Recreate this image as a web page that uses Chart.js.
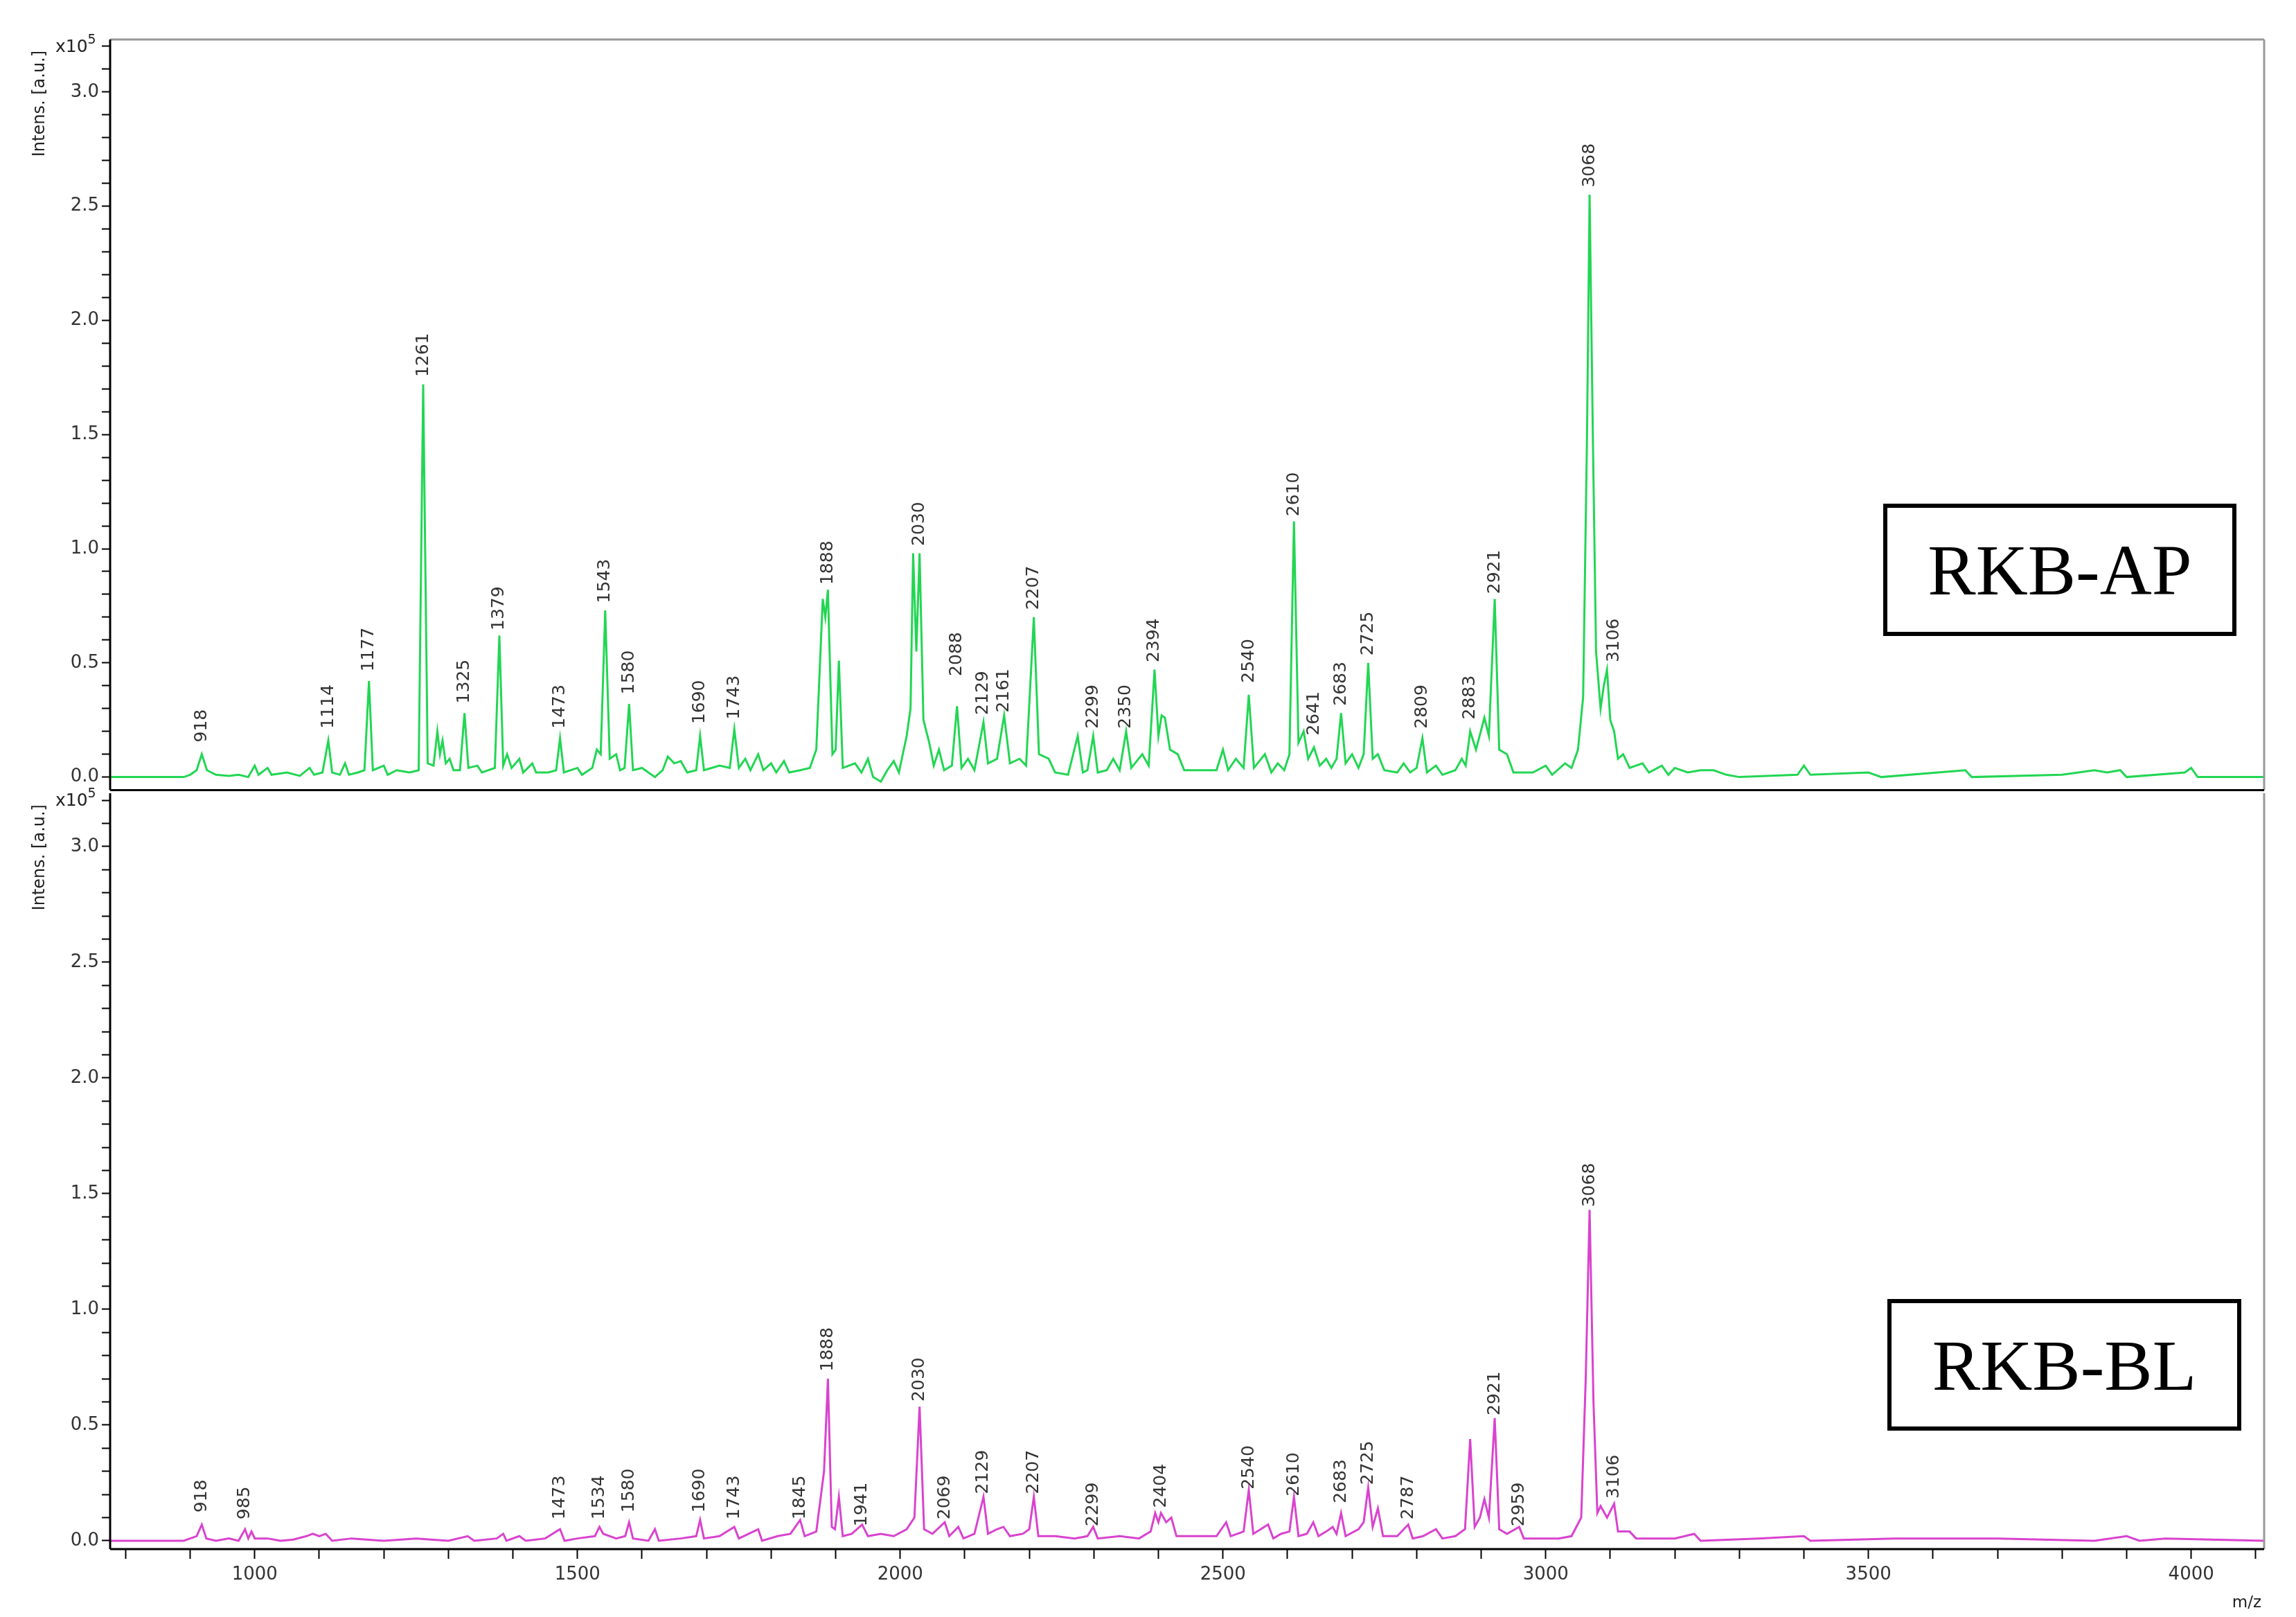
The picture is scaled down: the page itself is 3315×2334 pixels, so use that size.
<!DOCTYPE html>
<html><head><meta charset="utf-8">
<script src="https://cdn.jsdelivr.net/npm/chart.js@4/dist/chart.umd.min.js"></script>
<style>
body{margin:0;background:#fff;width:3315px;height:2334px;position:relative;overflow:hidden}
canvas{position:absolute;left:0}
.box{position:absolute;border:6px solid #000;box-sizing:border-box;font-family:"Liberation Serif",serif;font-size:104px;display:flex;align-items:center;justify-content:center;background:#fff}
</style></head><body>
<canvas id="c1" style="top:0"></canvas>
<canvas id="c2" style="top:1100px"></canvas>
<div class="box" style="left:2719px;top:727px;width:510px;height:191px">RKB-AP</div>
<div class="box" style="left:2725px;top:1875px;width:511px;height:190px">RKB-BL</div>
<script>
const apSpectrum=[[776,0],[890,0],[900,0.01],[910,0.03],[918,0.10],[926,0.03],[940,0.01],[960,0.005],[975,0.01],[990,0.0],[1000,0.05],[1006,0.01],[1020,0.04],[1026,0.01],[1050,0.02],[1070,0.005],[1085,0.04],[1092,0.01],[1105,0.02],[1114,0.16],[1120,0.02],[1132,0.01],[1140,0.06],[1146,0.01],[1160,0.02],[1170,0.03],[1177,0.42],[1183,0.03],[1200,0.05],[1206,0.01],[1220,0.03],[1240,0.02],[1254,0.03],[1261,1.72],[1268,0.06],[1277,0.05],[1283,0.20],[1287,0.10],[1291,0.16],[1296,0.06],[1302,0.08],[1308,0.03],[1318,0.03],[1325,0.28],[1331,0.04],[1345,0.05],[1352,0.02],[1372,0.04],[1379,0.62],[1385,0.05],[1391,0.10],[1398,0.04],[1410,0.08],[1416,0.02],[1430,0.06],[1436,0.02],[1455,0.02],[1467,0.03],[1473,0.17],[1479,0.02],[1500,0.04],[1507,0.01],[1523,0.04],[1530,0.12],[1536,0.10],[1543,0.73],[1550,0.08],[1560,0.10],[1566,0.03],[1573,0.04],[1580,0.32],[1586,0.03],[1600,0.04],[1620,0.0],[1632,0.03],[1640,0.09],[1650,0.06],[1660,0.07],[1670,0.02],[1684,0.03],[1690,0.18],[1696,0.03],[1720,0.05],[1736,0.04],[1743,0.21],[1750,0.04],[1760,0.08],[1768,0.03],[1780,0.10],[1788,0.03],[1800,0.06],[1808,0.02],[1820,0.07],[1828,0.02],[1845,0.03],[1860,0.04],[1870,0.12],[1880,0.78],[1884,0.70],[1888,0.82],[1895,0.10],[1900,0.12],[1905,0.51],[1911,0.04],[1930,0.06],[1940,0.02],[1950,0.08],[1958,0.0],[1970,-0.02],[1980,0.03],[1990,0.07],[1998,0.02],[2010,0.18],[2016,0.30],[2020,0.98],[2025,0.55],[2030,0.98],[2036,0.25],[2045,0.15],[2052,0.05],[2060,0.12],[2068,0.03],[2080,0.05],[2088,0.31],[2095,0.04],[2105,0.08],[2115,0.03],[2129,0.24],[2136,0.06],[2150,0.08],[2161,0.27],[2170,0.06],[2185,0.08],[2195,0.05],[2207,0.70],[2215,0.10],[2230,0.08],[2240,0.02],[2260,0.01],[2275,0.18],[2283,0.02],[2290,0.03],[2299,0.18],[2306,0.02],[2320,0.03],[2330,0.08],[2340,0.03],[2350,0.20],[2358,0.04],[2375,0.10],[2385,0.05],[2394,0.47],[2400,0.18],[2405,0.27],[2410,0.26],[2418,0.12],[2430,0.10],[2440,0.03],[2470,0.03],[2490,0.03],[2500,0.12],[2508,0.03],[2520,0.08],[2532,0.04],[2540,0.36],[2548,0.04],[2565,0.10],[2575,0.02],[2585,0.06],[2595,0.03],[2603,0.10],[2610,1.12],[2617,0.15],[2625,0.20],[2632,0.08],[2641,0.13],[2650,0.05],[2660,0.08],[2668,0.04],[2676,0.08],[2683,0.28],[2690,0.06],[2700,0.10],[2710,0.04],[2718,0.10],[2725,0.50],[2732,0.08],[2740,0.10],[2750,0.03],[2770,0.02],[2780,0.06],[2790,0.02],[2800,0.04],[2809,0.17],[2816,0.02],[2830,0.05],[2840,0.01],[2860,0.03],[2870,0.08],[2876,0.05],[2883,0.20],[2892,0.12],[2905,0.26],[2912,0.18],[2921,0.78],[2928,0.12],[2940,0.10],[2950,0.02],[2980,0.02],[3000,0.05],[3010,0.01],[3030,0.06],[3040,0.04],[3050,0.12],[3058,0.35],[3064,1.5],[3068,2.55],[3073,1.5],[3078,0.55],[3085,0.30],[3090,0.40],[3095,0.47],[3100,0.25],[3106,0.20],[3112,0.08],[3120,0.10],[3130,0.04],[3150,0.06],[3160,0.02],[3180,0.05],[3190,0.01],[3200,0.04],[3220,0.02],[3240,0.03],[3260,0.03],[3280,0.01],[3300,0.0],[3390,0.01],[3400,0.05],[3410,0.01],[3500,0.02],[3520,0.0],[3650,0.03],[3660,0.0],[3800,0.01],[3850,0.03],[3870,0.02],[3890,0.03],[3900,0.0],[3990,0.02],[4000,0.04],[4010,0.0],[4113,0.0]];
const blSpectrum=[[776,0],[890,0],[900,0.01],[910,0.02],[918,0.07],[925,0.01],[940,0.0],[960,0.01],[975,0.0],[985,0.05],[990,0.01],[995,0.04],[1000,0.01],[1020,0.01],[1040,0.0],[1060,0.005],[1080,0.02],[1090,0.03],[1100,0.02],[1110,0.03],[1120,0.0],[1150,0.01],[1200,0.0],[1250,0.01],[1300,0.0],[1330,0.02],[1340,0.0],[1375,0.01],[1385,0.03],[1390,0.0],[1410,0.02],[1420,0.0],[1450,0.01],[1473,0.05],[1480,0.0],[1500,0.01],[1527,0.02],[1534,0.06],[1540,0.03],[1560,0.01],[1574,0.02],[1580,0.08],[1586,0.01],[1610,0.0],[1620,0.05],[1626,0.0],[1660,0.01],[1684,0.02],[1690,0.09],[1696,0.01],[1720,0.02],[1743,0.06],[1750,0.01],[1780,0.05],[1786,0.0],[1810,0.02],[1830,0.03],[1845,0.09],[1852,0.02],[1870,0.04],[1882,0.30],[1888,0.70],[1894,0.06],[1899,0.05],[1905,0.19],[1911,0.02],[1925,0.03],[1941,0.07],[1950,0.02],[1970,0.03],[1990,0.02],[2010,0.05],[2022,0.10],[2030,0.58],[2037,0.05],[2050,0.03],[2069,0.08],[2076,0.02],[2090,0.06],[2098,0.01],[2115,0.03],[2129,0.19],[2136,0.03],[2150,0.05],[2160,0.06],[2170,0.02],[2190,0.03],[2200,0.05],[2207,0.19],[2214,0.02],[2240,0.02],[2270,0.01],[2290,0.02],[2299,0.06],[2306,0.01],[2340,0.02],[2370,0.01],[2388,0.04],[2395,0.12],[2400,0.08],[2404,0.12],[2412,0.08],[2420,0.10],[2428,0.02],[2460,0.02],[2490,0.02],[2505,0.08],[2512,0.02],[2532,0.04],[2540,0.22],[2547,0.03],[2570,0.07],[2578,0.01],[2590,0.03],[2603,0.04],[2610,0.19],[2617,0.02],[2630,0.03],[2640,0.08],[2648,0.02],[2660,0.04],[2670,0.06],[2676,0.03],[2683,0.12],[2690,0.02],[2710,0.05],[2718,0.08],[2725,0.23],[2732,0.06],[2740,0.14],[2748,0.02],[2770,0.02],[2787,0.07],[2794,0.01],[2810,0.02],[2830,0.05],[2840,0.01],[2860,0.02],[2875,0.05],[2883,0.44],[2890,0.06],[2898,0.10],[2905,0.18],[2912,0.10],[2921,0.53],[2928,0.05],[2940,0.03],[2959,0.06],[2966,0.01],[2990,0.01],[3020,0.01],[3040,0.02],[3055,0.10],[3062,0.7],[3068,1.43],[3074,0.6],[3080,0.12],[3085,0.15],[3095,0.10],[3106,0.16],[3112,0.04],[3130,0.04],[3140,0.01],[3200,0.01],[3230,0.03],[3240,0.0],[3330,0.01],[3400,0.02],[3410,0.0],[3540,0.01],[3700,0.01],[3850,0.0],[3900,0.02],[3920,0.0],[3960,0.01],[4113,0]];
const apLabelMz=[918,1114,1177,1261,1325,1379,1473,1543,1580,1690,1743,1888,2030,2088,2129,2161,2207,2299,2350,2394,2540,2610,2641,2683,2725,2809,2883,2921,3068,3106];
const apLabelY=[0.14,0.2,0.45,1.74,0.31,0.63,0.2,0.75,0.35,0.22,0.24,0.83,1.0,0.43,0.26,0.27,0.72,0.2,0.2,0.49,0.4,1.13,0.17,0.3,0.52,0.2,0.24,0.79,2.57,0.49];
const blLabelMz=[918,985,1473,1534,1580,1690,1743,1845,1888,1941,2030,2069,2129,2207,2299,2404,2540,2610,2683,2725,2787,2921,2959,3068,3106];
const blLabelY=[0.11,0.08,0.08,0.08,0.11,0.11,0.08,0.08,0.72,0.05,0.59,0.08,0.19,0.19,0.05,0.13,0.21,0.18,0.15,0.23,0.08,0.53,0.05,1.43,0.17];
const xTickValues=[800,900,1000,1100,1200,1300,1400,1500,1600,1700,1800,1900,2000,2100,2200,2300,2400,2500,2600,2700,2800,2900,3000,3100,3200,3300,3400,3500,3600,3700,3800,3900,4000,4100];
const yTickValues=[0,0.1,0.2,0.3,0.4,0.5,0.6,0.7,0.8,0.9,1.0,1.1,1.2,1.3,1.4,1.5,1.6,1.7,1.8,1.9,2.0,2.1,2.2,2.3,2.4,2.5,2.6,2.7,2.8,2.9,3.0,3.1,3.2];
const xMin=776,xMax=4113;
const FONT='"DejaVu Sans", sans-serif';

function makePlugin(labelMz,labelY,topBorder,bottomAxis){
 return {id:'deco',afterDraw(chart){
  const ctx=chart.ctx,a=chart.chartArea,x=chart.scales.x,y=chart.scales.y;
  ctx.save();
  ctx.lineWidth=3;
  if(topBorder){ctx.strokeStyle='#999';ctx.beginPath();ctx.moveTo(a.left,a.top);ctx.lineTo(a.right,a.top);ctx.stroke();}
  ctx.strokeStyle='#999';ctx.beginPath();ctx.moveTo(a.right,a.top);ctx.lineTo(a.right,a.bottom);ctx.stroke();
  ctx.strokeStyle='#000';ctx.lineWidth=3;ctx.beginPath();ctx.moveTo(a.left,a.top);ctx.lineTo(a.left,a.bottom);ctx.stroke();
  ctx.beginPath();ctx.moveTo(a.left,a.bottom);ctx.lineTo(a.right,a.bottom);ctx.stroke();
  ctx.fillStyle='#333';ctx.font='25px '+FONT;ctx.textAlign='left';ctx.textBaseline='middle';
  labelMz.forEach((m,i)=>{const px=x.getPixelForValue(m),py=y.getPixelForValue(labelY[i]);
   ctx.save();ctx.translate(px,py-4);ctx.rotate(-Math.PI/2);ctx.fillText(String(m),0,0);ctx.restore();});
  ctx.font='24px '+FONT;ctx.fillStyle='#222';
  ctx.save();ctx.translate(58,y.getPixelForValue(3.2)+6);ctx.rotate(-Math.PI/2);ctx.textAlign='right';ctx.fillText('Intens. [a.u.]',0,0);ctx.restore();
  const ey=y.getPixelForValue(3.2)+8;
  ctx.font='25px '+FONT;ctx.textAlign='left';ctx.textBaseline='alphabetic';ctx.fillText('x10',80,ey);
  const w=ctx.measureText('x10').width;ctx.font='19px '+FONT;ctx.fillText('5',80+w,ey-12);
  if(bottomAxis){ctx.font='23px '+FONT;ctx.textAlign='right';ctx.fillText('m/z',a.right-4,a.bottom+84);}
  ctx.restore();
 }};
}
function yScale(min,max){return {type:'linear',min:min,max:max,
  afterBuildTicks(s){s.ticks=yTickValues.map(v=>({value:v}));},
  afterFit(s){s.width=159;},
  border:{display:false},
  grid:{drawOnChartArea:false,tickLength:12,tickColor:'#000',tickWidth:2},
  ticks:{color:'#333',font:{family:FONT,size:26},padding:4,autoSkip:false,
   callback:(v)=>{const r=Math.round(v*10);return r%5===0&&r<=30?(r/10).toFixed(1):'';}}};}
function xScale(show){const s={type:'linear',min:xMin,max:xMax,display:show,
  afterBuildTicks(s){s.ticks=xTickValues.map(v=>({value:v}));},
  border:{display:false},
  grid:{drawOnChartArea:false,tickLength:14,tickColor:'#000',tickWidth:2},
  ticks:{color:'#333',font:{family:FONT,size:26},autoSkip:false,maxRotation:0,padding:8,
   callback:(v)=>v%500===0?String(v):''}};
  if(show)s.afterFit=(sc)=>{sc.height=98;};return s;}
function make(id,w,h,data,color,pad,ymin,ymax,labMz,labY,topB,bottomAxis){
 const c=document.getElementById(id);c.width=w;c.height=h;c.style.width=w+'px';c.style.height=h+'px';
 new Chart(c,{type:'line',data:{datasets:[{data:data.map(p=>({x:p[0],y:p[1]})),borderColor:color,borderWidth:3,pointRadius:0,tension:0,fill:false}]},
  options:{responsive:false,animation:false,devicePixelRatio:1,layout:{padding:pad},
   plugins:{legend:{display:false},tooltip:{enabled:false}},
   scales:{x:xScale(bottomAxis),y:yScale(ymin,ymax)}},
  plugins:[makePlugin(labMz,labY,topB,bottomAxis)]});
}
make('c1',3315,1160,apSpectrum,'#22d653',{top:57,right:46,bottom:15,left:0},-0.057,3.23,apLabelMz,apLabelY,true,false);
make('c2',3315,1234,blSpectrum,'#d943cf',{top:45,right:46,bottom:0,left:0},-0.036,3.23,blLabelMz,blLabelY,false,true);
</script></body></html>
